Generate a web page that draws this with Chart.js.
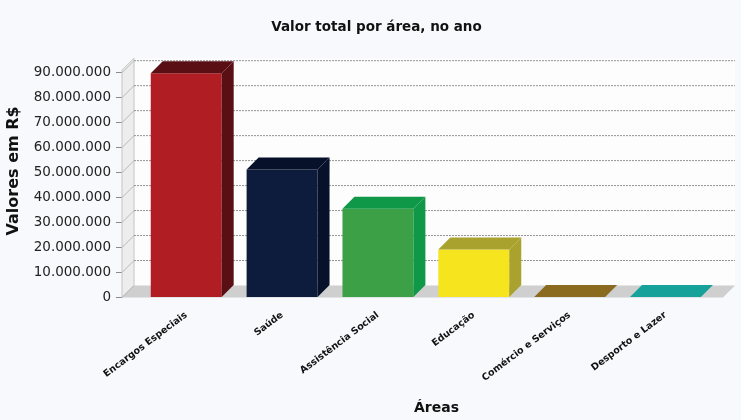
<!DOCTYPE html>
<html>
<head>
<meta charset="utf-8">
<script src="https://cdn.jsdelivr.net/npm/chart.js@4/dist/chart.umd.min.js"></script>
<style>
  html, body { margin: 0; padding: 0; background: #f7f9fc; }
  #wrap { width: 741px; height: 420px; }
</style>
</head>
<body>
<div id="wrap"><canvas id="chart" width="741" height="420"></canvas></div>
<script>
var CATEGORIES = ["Encargos Especiais", "Saúde", "Assistência Social", "Educação", "Comércio e Serviços", "Desporto e Lazer"];
var VALUES = [89800000, 51200000, 35500000, 19200000, 250000, 200000];
var FRONT_COLORS = ["#b01d22", "#0d1b3d", "#3ca046", "#f6e41f", "#a07a25", "#1bb1aa"];
var SIDE_COLORS = ["#5a0f15", "#07112a", "#0f9847", "#a9a22f", "#8a6a1f", "#16a19a"];
var Y_TICKS = [0, 10000000, 20000000, 30000000, 40000000, 50000000, 60000000, 70000000, 80000000, 90000000];
var X_TITLE = "Áreas";
var Y_TITLE = "Valores em R$";

var DEPTH = 12;
var FONT = "'DejaVu Sans', sans-serif";

function formatBR(v) {
    return String(Math.round(v)).replace(/\B(?=(\d{3})+(?!\d))/g, ".");
}

// fundo, paredes e grade do "cubo" 3D
var box3d = {
    id: "box3d",
    afterLayout: function (chart) {
        // título um pouco deslocado para a direita, como no original
        if (chart.titleBlock) {
            chart.titleBlock.left = 30;
        }
    },
    beforeDraw: function (chart) {
        var ctx = chart.ctx;
        ctx.save();
        ctx.fillStyle = "#f7f9fc";
        ctx.fillRect(0, 0, chart.width, chart.height);
        ctx.restore();
    },
    beforeDatasetsDraw: function (chart) {
        var ctx = chart.ctx;
        var a = chart.chartArea;
        var d = DEPTH;
        var yScale = chart.scales.y;
        ctx.save();
        // parede de fundo
        ctx.fillStyle = "#fdfdfe";
        ctx.fillRect(a.left + d, a.top - d, a.right - a.left, a.bottom - a.top);
        // parede esquerda
        ctx.beginPath();
        ctx.moveTo(a.left, a.bottom);
        ctx.lineTo(a.left, a.top);
        ctx.lineTo(a.left + d, a.top - d);
        ctx.lineTo(a.left + d, a.bottom - d);
        ctx.closePath();
        ctx.fillStyle = "#ededed";
        ctx.fill();
        ctx.strokeStyle = "#c4c4c4";
        ctx.lineWidth = 1;
        ctx.stroke();
        // piso
        ctx.beginPath();
        ctx.moveTo(a.left, a.bottom);
        ctx.lineTo(a.right, a.bottom);
        ctx.lineTo(a.right + d, a.bottom - d);
        ctx.lineTo(a.left + d, a.bottom - d);
        ctx.closePath();
        ctx.fillStyle = "#cfcfcf";
        ctx.fill();
        // linhas de grade
        Y_TICKS.forEach(function (t) {
            var y = yScale.getPixelForValue(t);
            ctx.beginPath();
            ctx.strokeStyle = "#b8b8b8";
            ctx.setLineDash([]);
            ctx.moveTo(a.left, y);
            ctx.lineTo(a.left + d, y - d);
            ctx.stroke();
            if (t > 0) {
                ctx.beginPath();
                ctx.strokeStyle = "#939393";
                ctx.setLineDash([2, 1]);
                ctx.moveTo(a.left + d, y - d);
                ctx.lineTo(a.right + d, y - d);
                ctx.stroke();
            }
        });
        ctx.restore();
    },
    afterDatasetsDraw: function (chart) {
        var ctx = chart.ctx;
        var d = DEPTH;
        var meta = chart.getDatasetMeta(0);
        ctx.save();
        meta.data.forEach(function (bar, i) {
            var p = bar.getProps(["x", "y", "base", "width"], true);
            var l = p.x - p.width / 2;
            var r = p.x + p.width / 2;
            ctx.fillStyle = SIDE_COLORS[i];
            // topo
            ctx.beginPath();
            ctx.moveTo(l, p.y);
            ctx.lineTo(l + d, p.y - d);
            ctx.lineTo(r + d, p.y - d);
            ctx.lineTo(r, p.y);
            ctx.closePath();
            ctx.fill();
            // lateral
            ctx.beginPath();
            ctx.moveTo(r, p.y);
            ctx.lineTo(r + d, p.y - d);
            ctx.lineTo(r + d, p.base - d);
            ctx.lineTo(r, p.base);
            ctx.closePath();
            ctx.fill();
        });
        ctx.restore();
    },
    afterDraw: function (chart) {
        // títulos dos eixos centrados no "cubo" inteiro (com profundidade)
        var ctx = chart.ctx;
        var a = chart.chartArea;
        var d = DEPTH;
        ctx.save();
        ctx.fillStyle = "#111111";
        ctx.textAlign = "center";
        ctx.textBaseline = "middle";
        ctx.font = "bold 14px " + FONT;
        ctx.fillText(X_TITLE, (a.left + a.right + d) / 2 + 8, 408);
        ctx.translate(14, (a.top + a.bottom - d) / 2 - 7);
        ctx.rotate(-Math.PI / 2);
        ctx.font = "bold 16px " + FONT;
        ctx.fillText(Y_TITLE, 0, 0);
        ctx.restore();
    }
};

const data = {
    datasets: [
        {
            label: "Valor",
            data: VALUES.map(function (v, i) { return { x: i, y: v }; }),
            backgroundColor: FRONT_COLORS,
            borderWidth: 0,
            categoryPercentage: 1,
            barPercentage: 0.74,
        },
    ],
};

const config = {
    type: "bar",
    data: data,
    options: {
        animation: false,
        responsive: false,
        layout: {
            padding: { left: 1, right: 18, top: 0, bottom: 0 },
        },
        plugins: {
            legend: { display: false },
            tooltip: { enabled: false },
            title: {
                display: true,
                text: "Valor total por área, no ano",
                color: "#111111",
                font: { family: FONT, size: 13.5, weight: "bold" },
                padding: { top: 19, bottom: 35 },
            },
        },
        scales: {
            x: {
                type: "linear",
                min: -0.67,
                max: 5.6,
                offset: false,
                grid: { display: false },
                border: { display: false },
                ticks: {
                    stepSize: 1,
                    autoSkip: false,
                    includeBounds: false,
                    minRotation: 37,
                    maxRotation: 37,
                    padding: 4,
                    color: "#111111",
                    font: { family: FONT, size: 9.5, weight: "bold" },
                    callback: function (value) {
                        return CATEGORIES[value] !== undefined ? CATEGORIES[value] : "";
                    },
                },
                afterFit: function (scale) {
                    scale.height = 122.5;
                },
            },
            y: {
                min: 0,
                max: 91000000,
                grid: {
                    display: true,
                    drawOnChartArea: false,
                    tickLength: 6,
                    color: "#8a8a8a",
                },
                border: { display: true, color: "#9a9a9a" },
                ticks: {
                    padding: 5,
                    color: "#222222",
                    font: { family: FONT, size: 13.5 },
                    callback: function (value) {
                        return formatBR(value);
                    },
                },
                afterBuildTicks: function (scale) {
                    scale.ticks = Y_TICKS.map(function (v) { return { value: v }; });
                },
                afterFit: function (scale) {
                    scale.width = 121;
                },
            },
        },
    },
    plugins: [box3d],
};

function drawCanvas() {
    const ctx = document.getElementById("chart");
    new Chart(ctx, config);
}

drawCanvas();
</script>
</body>
</html>
